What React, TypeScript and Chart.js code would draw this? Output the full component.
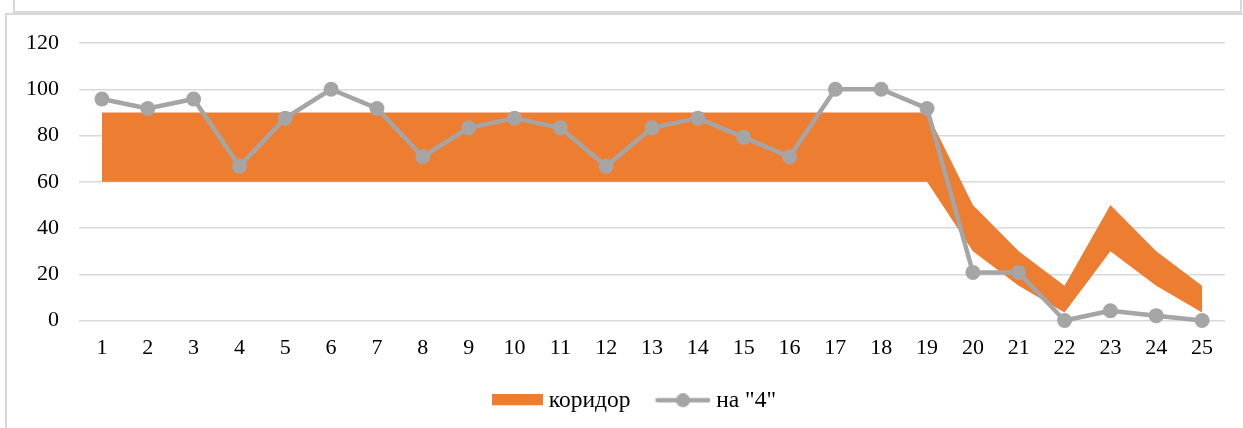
import React, { useEffect, useRef } from "react";
import { Chart, registerables } from "chart.js";

Chart.register(...registerables);

const categories = [
  "1", "2", "3", "4", "5", "6", "7", "8", "9", "10", "11", "12", "13",
  "14", "15", "16", "17", "18", "19", "20", "21", "22", "23", "24", "25",
];

// corridor band: lower and upper edge
const corridorLow = [
  60, 60, 60, 60, 60, 60, 60, 60, 60, 60, 60, 60, 60, 60, 60, 60, 60, 60, 60,
  30, 15, 3.5, 30, 15, 3.5,
];
const corridorHigh = [
  90, 90, 90, 90, 90, 90, 90, 90, 90, 90, 90, 90, 90, 90, 90, 90, 90, 90, 90,
  50, 30, 15, 50, 30, 15,
];

// share of grade "4"
const gradeFour = [
  95.8, 91.7, 95.8, 66.7, 87.5, 100, 91.7, 70.8, 83.3, 87.5, 83.3, 66.7, 83.3,
  87.5, 79.2, 70.8, 100, 100, 91.7, 20.8, 20.8, 0, 4.2, 2.1, 0,
];

const yMin = 0;
const yMax = 120;
const yStep = 20;

const corridorLabel = "коридор";
const gradeFourLabel = 'на "4"';

const ORANGE = "#ed7d31";
const GREY = "#a5a5a5";
const FONT = "'Liberation Serif', 'Times New Roman', serif";

function makeBoxIcon(): HTMLCanvasElement {
  const c = document.createElement("canvas");
  c.width = 62;
  c.height = 14;
  const g = c.getContext("2d")!;
  g.fillStyle = ORANGE;
  g.fillRect(11, 0, 51, 11);
  return c;
}

function makeLineIcon(): HTMLCanvasElement {
  const c = document.createElement("canvas");
  c.width = 62;
  c.height = 16;
  const g = c.getContext("2d")!;
  g.strokeStyle = GREY;
  g.lineWidth = 4.5;
  g.lineCap = "round";
  g.beginPath();
  g.moveTo(9, 7);
  g.lineTo(60, 7);
  g.stroke();
  g.fillStyle = GREY;
  g.beginPath();
  g.arc(34.5, 7, 7, 0, Math.PI * 2);
  g.fill();
  return c;
}

export default function App() {
  const ref = useRef<HTMLCanvasElement | null>(null);

  useEffect(() => {
    if (!ref.current) return;
    const boxIcon = makeBoxIcon();
    const lineIcon = makeLineIcon();

    const chart = new Chart(ref.current, {
      type: "line",
      data: {
        labels: categories,
        datasets: [
          {
            label: "low",
            data: corridorLow,
            borderWidth: 0,
            borderColor: "rgba(0,0,0,0)",
            backgroundColor: "rgba(0,0,0,0)",
            pointRadius: 0,
            fill: false,
            tension: 0,
            order: 3,
          },
          {
            label: corridorLabel,
            data: corridorHigh,
            borderWidth: 0,
            borderColor: "rgba(0,0,0,0)",
            backgroundColor: ORANGE,
            pointRadius: 0,
            fill: "-1",
            tension: 0,
            order: 2,
          },
          {
            label: gradeFourLabel,
            data: gradeFour,
            borderColor: GREY,
            borderWidth: 4.5,
            backgroundColor: GREY,
            pointBackgroundColor: GREY,
            pointBorderWidth: 0,
            pointRadius: 7.5,
            borderJoinStyle: "round",
            borderCapStyle: "round",
            fill: false,
            tension: 0,
            clip: false,
            order: 1,
          },
        ],
      },
      options: {
        animation: false,
        responsive: false,
        maintainAspectRatio: false,
        layout: { padding: { left: 20, right: 0, top: 43, bottom: 5 } },
        plugins: {
          tooltip: { enabled: false },
          legend: {
            display: true,
            position: "bottom",
            labels: {
              usePointStyle: true,
              pointStyleWidth: 50,
              boxHeight: 24,
              padding: 24,
              color: "#000",
              font: { family: FONT, size: 23.5 },
              generateLabels: () => [
                {
                  text: corridorLabel,
                  pointStyle: boxIcon,
                  fillStyle: ORANGE,
                  strokeStyle: "rgba(0,0,0,0)",
                  lineWidth: 0,
                  hidden: false,
                  datasetIndex: 1,
                  fontColor: "#000",
                },
                {
                  text: gradeFourLabel,
                  pointStyle: lineIcon,
                  fillStyle: GREY,
                  strokeStyle: "rgba(0,0,0,0)",
                  lineWidth: 0,
                  hidden: false,
                  datasetIndex: 2,
                  fontColor: "#000",
                },
              ],
            },
          },
        },
        scales: {
          x: {
            offset: true,
            grid: { display: false, drawTicks: false },
            border: { display: false },
            ticks: {
              padding: 15,
              color: "#000",
              font: { family: FONT, size: 22 },
              maxRotation: 0,
              autoSkip: false,
            },
            afterFit: (s: any) => {
              s.height = 45;
            },
          },
          y: {
            min: yMin,
            max: yMax,
            grid: { color: "#d9d9d9", lineWidth: 1.5, drawTicks: false },
            border: { display: false },
            ticks: {
              stepSize: yStep,
              padding: 20,
              color: "#000",
              font: { family: FONT, size: 22 },
            },
            afterFit: (s: any) => {
              s.width = 59;
            },
          },
          yRight: {
            position: "right",
            display: true,
            min: 0,
            max: 1,
            grid: { display: false, drawTicks: false },
            border: { display: false },
            ticks: { display: false },
            afterFit: (s: any) => {
              s.width = 18;
            },
          },
        },
      },
    });
    return () => chart.destroy();
  }, []);

  return (
    <div
      style={{
        position: "fixed",
        left: 0,
        top: 0,
        width: 1243,
        height: 428,
        overflow: "hidden",
        background: "#fff",
      }}
    >
      <div
        style={{
          position: "absolute",
          left: 13,
          top: -10,
          width: 1229,
          height: 23,
          boxSizing: "border-box",
          border: "2px solid #d9d9d9",
        }}
      />
      <div
        style={{
          position: "absolute",
          left: 5,
          top: 13,
          width: 1300,
          height: 500,
          boxSizing: "border-box",
          border: "2px solid #d9d9d9",
        }}
      />
      <canvas
        ref={ref}
        width={1243}
        height={428}
        style={{ position: "absolute", left: 0, top: 0, width: 1243, height: 428 }}
      />
    </div>
  );
}
